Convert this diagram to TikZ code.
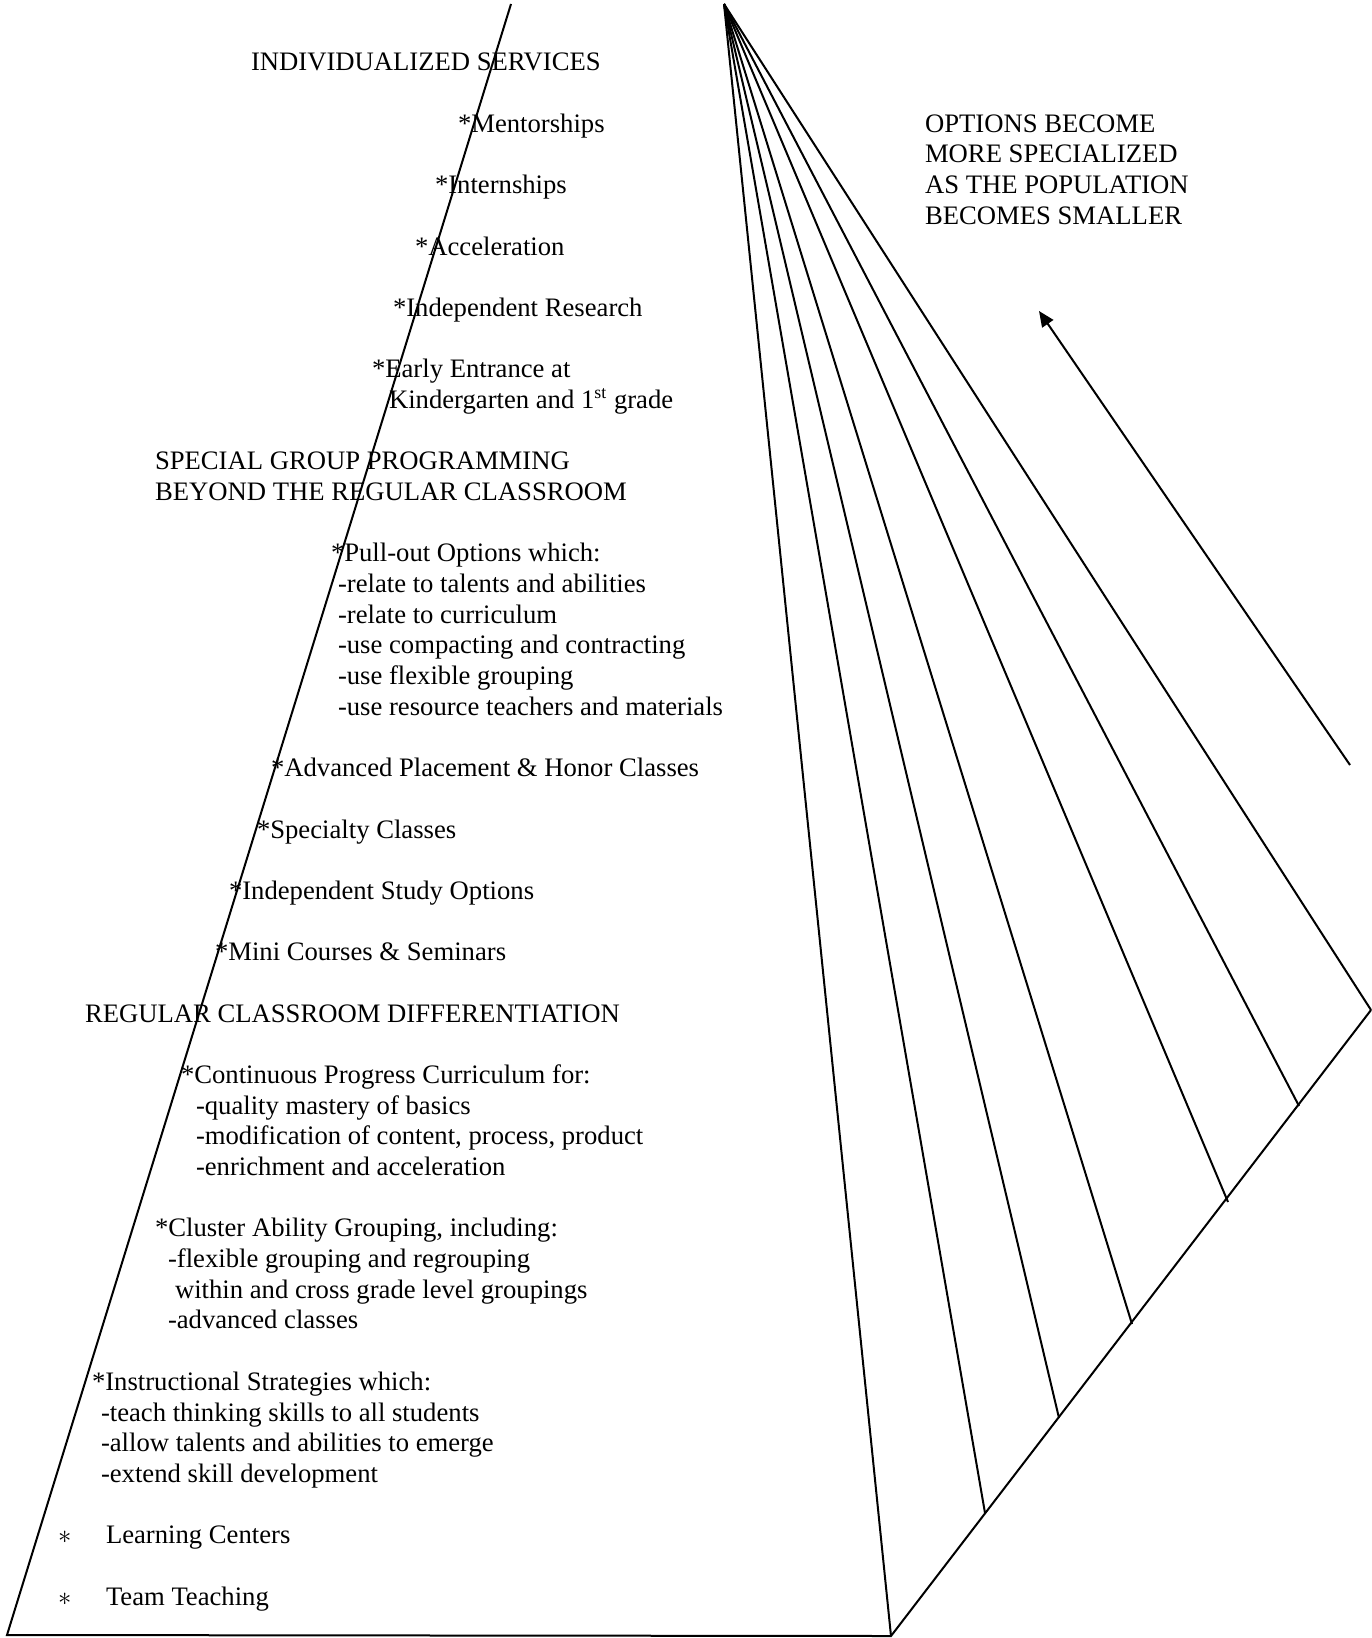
\documentclass[tikz,border=0pt]{standalone}
\usepackage{fontspec}
\setmainfont{Liberation Serif}
\usetikzlibrary{arrows.meta}
\begin{document}
\begin{tikzpicture}[x=0.45pt,y=-0.45pt, line width=0.9pt,
  txt/.style={anchor=base west, inner sep=0pt, font=\fontsize{12}{13.8}\selectfont},
  edge/.style={draw=black, line width=0.9pt}]
\useasboundingbox (0,0) rectangle (1371,1638);
% geometry
\coordinate (apex) at (724,4);
\coordinate (ltop) at (511,4);
\coordinate (lbot) at (7,1635);
\coordinate (rbot) at (891,1636);
\coordinate (r1) at (985,1513);
\coordinate (r2) at (1059,1418);
\coordinate (r3) at (1132,1324);
\coordinate (r4) at (1228,1202);
\coordinate (r5) at (1299,1106);
\coordinate (r6) at (1371,1010);
\coordinate (atail) at (1350,765);
\coordinate (ahead) at (1039,311);
\draw[edge] (ltop) -- (lbot) -- (rbot) -- (r6);
\foreach \p in {rbot,r1,r2,r3,r4,r5,r6} \draw[edge] (apex) -- (\p);
\draw[edge, -{Triangle[length=7pt,width=6pt]}] (atail) -- (ahead);
% texts
\node[txt] (t0) at (250,71) {INDIVIDUALIZED SERVICES};
\node[txt] (t1) at (457,132.4) {*Mentorships};
\node[txt] (t2) at (434,193.7) {*Internships};
\node[txt] (t3) at (414,255.1) {*Acceleration};
\node[txt] (t4) at (392,316.4) {*Independent Research};
\node[txt] (t5) at (371,377.8) {*Early Entrance at};
\node[txt] (t6) at (388,408.5) {Kindergarten and 1\textsuperscript{st} grade};
\node[txt] (t7) at (154,469.8) {SPECIAL GROUP PROGRAMMING};
\node[txt] (t8) at (154,500.5) {BEYOND THE REGULAR CLASSROOM};
\node[txt] (t9) at (330,561.9) {*Pull-out Options which:};
\node[txt] (t10) at (337,592.6) {-relate to talents and abilities};
\node[txt] (t11) at (337,623.2) {-relate to curriculum};
\node[txt] (t12) at (337,653.9) {-use compacting and contracting};
\node[txt] (t13) at (337,684.6) {-use flexible grouping};
\node[txt] (t14) at (337,715.3) {-use resource teachers and materials};
\node[txt] (t15) at (270,776.6) {*Advanced Placement \& Honor Classes};
\node[txt] (t16) at (256,838) {*Specialty Classes};
\node[txt] (t17) at (228,899.4) {*Independent Study Options};
\node[txt] (t18) at (214,960.7) {*Mini Courses \& Seminars};
\node[txt] (t19) at (84,1022) {REGULAR CLASSROOM DIFFERENTIATION};
\node[txt] (t20) at (180,1083.4) {*Continuous Progress Curriculum for:};
\node[txt] (t21) at (195,1114) {-quality mastery of basics};
\node[txt] (t22) at (195,1144.8) {-modification of content, process, product};
\node[txt] (t23) at (195,1175.5) {-enrichment and acceleration};
\node[txt] (t24) at (154,1236.8) {*Cluster Ability Grouping, including:};
\node[txt] (t25) at (167,1267.5) {-flexible grouping and regrouping};
\node[txt] (t26) at (174,1298.2) {within and cross grade level groupings};
\node[txt] (t27) at (167,1328.9) {-advanced classes};
\node[txt] (t28) at (91,1390.2) {*Instructional Strategies which:};
\node[txt] (t29) at (100,1421) {-teach thinking skills to all students};
\node[txt] (t30) at (100,1451.6) {-allow talents and abilities to emerge};
\node[txt] (t31) at (100,1482.3) {-extend skill development};
\node[txt] (b1) at (57,1543.6) {$\ast$};
\node[txt] (t32) at (105,1543.6) {Learning Centers};
\node[txt] (b2) at (57,1605) {$\ast$};
\node[txt] (t33) at (105,1605) {Team Teaching};
\node[txt] (r0a) at (924,132.4) {OPTIONS BECOME};
\node[txt] (r0b) at (924,163) {MORE SPECIALIZED};
\node[txt] (r0c) at (924,193.7) {AS THE POPULATION};
\node[txt] (r0d) at (924,224.4) {BECOMES SMALLER};
\end{tikzpicture}
\end{document}
